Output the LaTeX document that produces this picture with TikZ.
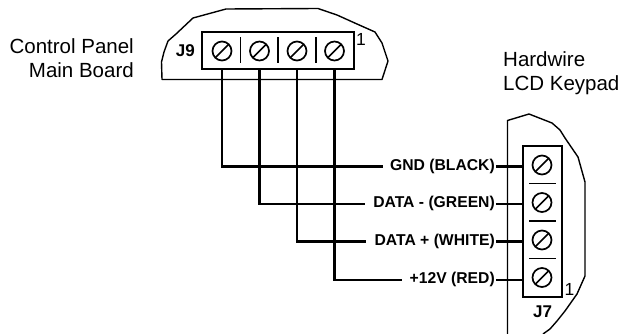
\documentclass[tikz,border=0pt]{standalone}
\usepackage{fontspec}
\setmainfont{Liberation Sans}
\begin{document}
\begin{tikzpicture}[x=1pt,y=-1pt,
  wire/.style={line width=2.5pt},
  outline/.style={line width=1.4pt, line join=round},
  tbox/.style={draw, rectangle, line width=1.9pt, inner sep=0pt},
  sepline/.style={line width=1.8pt},
  screw/.style={draw, circle, line width=1.7pt, minimum size=19pt, inner sep=0pt,
    path picture={\draw[line width=1.7pt] (path picture bounding box.south west) -- (path picture bounding box.north east);}},
  title/.style={inner sep=0pt, font=\fontsize{20.5}{24}\selectfont},
  lbl/.style={inner sep=0pt, font=\fontsize{15.7}{18}\selectfont\bfseries},
  jlbl/.style={inner sep=0pt, font=\fontsize{17}{18}\selectfont\bfseries},
  pin/.style={inner sep=0pt, font=\fontsize{17.5}{18}\selectfont}
]
\useasboundingbox (0,0) rectangle (625,334);

% titles
\node[title, anchor=base east] (cp1) at (134,53.3) {Control Panel};
\node[title, anchor=base east] (cp2) at (134,77.3) {Main Board};
\node[title, anchor=base west] (kp1) at (503,67) {Hardwire};
\node[title, anchor=base west] (kp2) at (503,91) {LCD Keypad};

% control panel board outline
\draw[outline] (382,79.5) -- (162,79.5) -- (161.5,62) -- (164,52) -- (168,41) -- (176,34)
  -- (193,18) -- (226,9) -- (318,8.5) -- (337,15) -- (357,24) -- (375,32) -- (382,43)
  -- (388,61) -- cycle;

% J9 terminal block
\node[tbox, minimum width=152pt, minimum height=37pt] (j9) at (278,50.5) {};
\node[screw] (a1) at (222,51) {};
\node[screw] (a2) at (259.5,51) {};
\node[screw] (a3) at (297,51) {};
\node[screw] (a4) at (334.5,51) {};
\draw[sepline] (240.5,37.5) -- (240.5,63.5);
\draw[sepline] (278,37.5) -- (278,63.5);
\draw[sepline] (316,37.5) -- (316,63.5);
\node[jlbl, anchor=base east] (j9l) at (195,57) {J9};
\node[pin, anchor=base west] (j9p) at (356,45.5) {1};

% keypad outline
\draw[outline] (507.5,334) -- (507.5,120.5) -- (529,114) -- (552,123) -- (560,130) -- (565,138)
  -- (578,157) -- (585,182) -- (585,276) -- (577,294) -- (565,311) -- (557,321) -- (550,329) -- (543,334);

% J7 terminal block
\node[tbox, minimum width=39pt, minimum height=151pt] (j7) at (542.5,221.5) {};
\node[screw] (b1) at (542,165) {};
\node[screw] (b2) at (542,202.5) {};
\node[screw] (b3) at (542,240) {};
\node[screw] (b4) at (542,277.5) {};
\draw[sepline] (529,183.5) -- (556,183.5);
\draw[sepline] (529,221) -- (556,221);
\draw[sepline] (529,258.5) -- (556,258.5);
\node[jlbl, anchor=base] (j7l) at (542.5,318) {J7};
\node[pin, anchor=base west] (j7p) at (564.5,296) {1};

% wire end points at J7
\coordinate (t1) at (523,166.5);
\coordinate (t2) at (523,204);
\coordinate (t3) at (523,241.5);
\coordinate (t4) at (523,280);

% labels
\node[lbl, anchor=base east] (l1) at (495,170.5) {GND (BLACK)};
\node[lbl, anchor=base east] (l2) at (495,208) {DATA - (GREEN)};
\node[lbl, anchor=base east] (l3) at (495,245.5) {DATA + (WHITE)};
\node[lbl, anchor=base east] (l4) at (495,284) {+12V (RED)};

% wires
\draw[wire] (j9.south -| a1) |- ([xshift=-7pt]l1.west |- t1);
\draw[wire] (j9.south -| a2) |- ([xshift=-8pt]l2.west |- t2);
\draw[wire] (j9.south -| a3) |- ([xshift=-8pt]l3.west |- t3);
\draw[wire] (j9.south -| a4) |- ([xshift=-8pt]l4.west |- t4);
\draw[wire] ([xshift=1pt]l1.east |- t1) -- (t1);
\draw[wire] ([xshift=1pt]l2.east |- t2) -- (t2);
\draw[wire] ([xshift=1pt]l3.east |- t3) -- (t3);
\draw[wire] ([xshift=1pt]l4.east |- t4) -- (t4);
\end{tikzpicture}
\end{document}
